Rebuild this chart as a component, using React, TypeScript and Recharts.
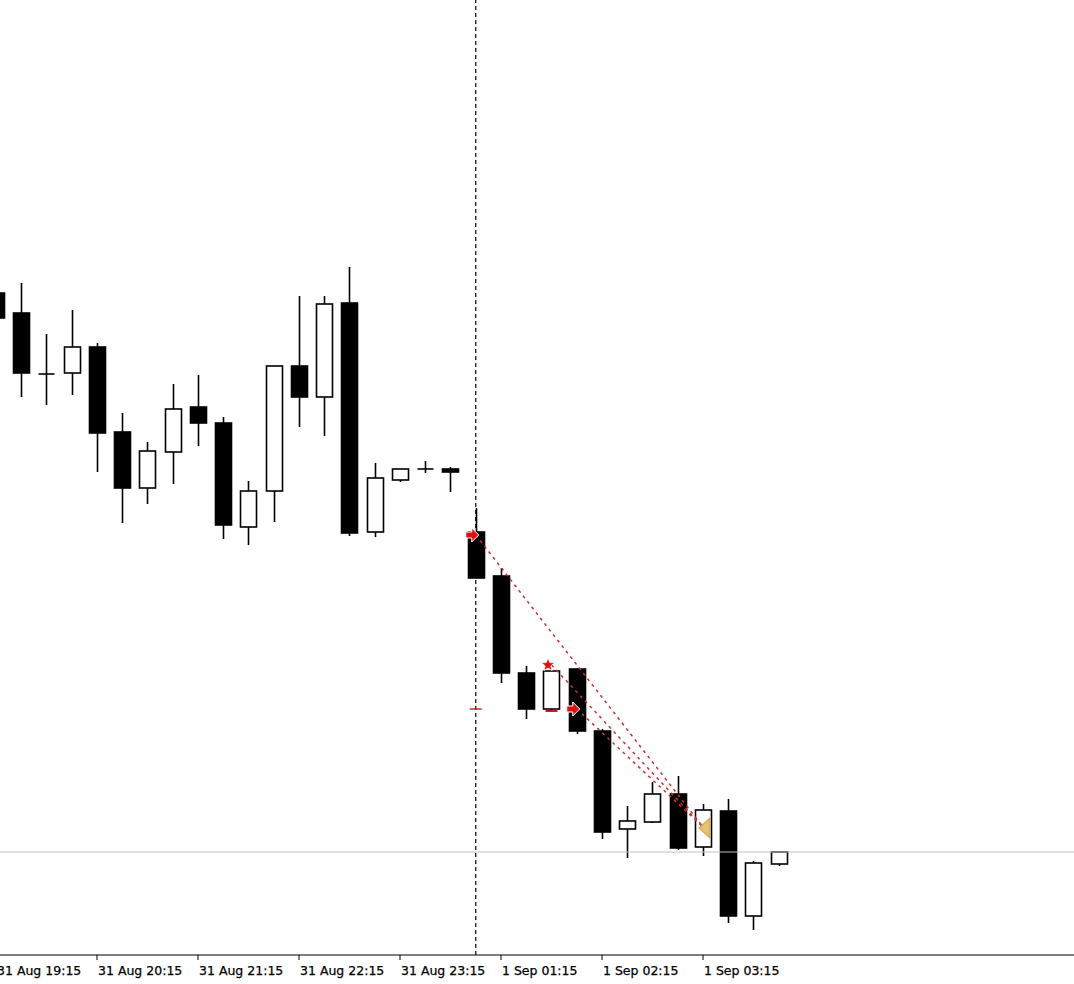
import React from 'react';
import { ComposedChart, Bar, XAxis, YAxis, ReferenceLine, Scatter } from 'recharts';

// Bar times (15-minute bars)
const times = [
  '31 Aug 19:15', '31 Aug 19:30', '31 Aug 19:45', '31 Aug 20:00', '31 Aug 20:15', '31 Aug 20:30',
  '31 Aug 20:45', '31 Aug 21:00', '31 Aug 21:15', '31 Aug 21:30', '31 Aug 21:45', '31 Aug 22:00',
  '31 Aug 22:15', '31 Aug 22:30', '31 Aug 22:45', '31 Aug 23:00', '31 Aug 23:15', '31 Aug 23:30',
  '31 Aug 23:45', '1 Sep 01:00', '1 Sep 01:15', '1 Sep 01:30', '1 Sep 01:45', '1 Sep 02:00',
  '1 Sep 02:15', '1 Sep 02:30', '1 Sep 02:45', '1 Sep 03:00', '1 Sep 03:15', '1 Sep 03:30',
  '1 Sep 03:45', '1 Sep 04:00',
];

// Prices (arbitrary point units, no price scale shown)
const opens = [662, 642, 581, 582, 608, 523, 467, 503, 548, 532, 428, 464, 589, 558, 652, 423, 475, 486, 486, 423, 379, 282, 246, 286, 224, 126, 133, 161, 108, 144, 39, 91];
const highs = [666, 672, 621, 645, 612, 542, 513, 571, 580, 538, 474, 589, 659, 659, 688, 492, 486, 494, 488, 447, 387, 289, 285, 287, 226, 149, 173, 179, 151, 156, 94, 103];
const lows = [633, 558, 550, 560, 483, 432, 451, 471, 509, 416, 410, 433, 528, 519, 419, 418, 473, 482, 463, 377, 272, 236, 245, 221, 116, 97, 132, 105, 99, 32, 25, 89];
const closes = [637, 582, 581, 608, 522, 467, 504, 546, 532, 430, 464, 589, 558, 651, 422, 477, 486, 486, 483, 377, 282, 246, 284, 224, 123, 134, 161, 107, 145, 39, 92, 103];

// Axis tick bars
const tickIdx = [0, 4, 8, 12, 16, 20, 24, 28];

// Current price line
const bidPrice = 103;
// Day separator bar
const separatorIdx = 19;

// Trade markers
const markerIdx = [19, 22, 23, 28, 19, 22];
const markerPrice = [420, 290, 246, 127, 246, 244];
const markerKind = ['arrow', 'star', 'arrow', 'tri', 'dash', 'line'];

// Trade history lines (open bar/price -> close bar/price)
const tradeOpenIdx = [19, 22, 23];
const tradeOpenPrice = [420, 290, 246];
const tradeCloseIdx = [28, 28, 28];
const tradeClosePrice = [128, 128, 128];

const candles = times.map((t, i) => ({
  i,
  time: t,
  open: opens[i],
  high: highs[i],
  low: lows[i],
  close: closes[i],
  range: [lows[i], highs[i]],
}));

const markers = markerIdx.map((idx, k) => ({ i: idx, p: markerPrice[k], kind: markerKind[k] }));

const Candle = (props: any) => {
  const { x, y, width, height, payload } = props;
  if (x == null || y == null) return null;
  const cx = Math.round(x + width / 2) + 0.5;
  const yTop = Math.min(y, y + height);
  const h = Math.abs(height);
  const hi = payload.high;
  const lo = payload.low;
  const k = hi === lo ? 0 : h / (hi - lo);
  const yO = yTop + (hi - payload.open) * k;
  const yC = yTop + (hi - payload.close) * k;
  const top = Math.min(yO, yC);
  const bot = Math.max(yO, yC);
  const bull = payload.close > payload.open;
  const doji = payload.close === payload.open;
  const half = 8;
  return (
    <g>
      <line x1={cx} x2={cx} y1={yTop} y2={yTop + h} stroke="#000" strokeWidth={1.6} />
      {doji ? (
        <line x1={cx - half} x2={cx + half} y1={yO} y2={yO} stroke="#000" strokeWidth={1.6} />
      ) : (
        <rect
          x={cx - half}
          y={top}
          width={half * 2}
          height={Math.max(bot - top, 1)}
          fill={bull ? '#ffffff' : '#000000'}
          stroke="#000"
          strokeWidth={1.6}
        />
      )}
    </g>
  );
};

const starPoints = (cx: number, cy: number, ro: number, ri: number) => {
  const pts: string[] = [];
  for (let j = 0; j < 10; j++) {
    const a = -Math.PI / 2 + (j * Math.PI) / 5;
    const r = j % 2 === 0 ? ro : ri;
    pts.push(`${cx + r * Math.cos(a)},${cy + r * Math.sin(a)}`);
  }
  return pts.join(' ');
};

const Marker = (props: any) => {
  const { cx, cy, payload } = props;
  if (cx == null || cy == null) return null;
  const kind = payload.kind;
  if (kind === 'arrow') {
    const ax = cx - 3;
    const pts = [
      [ax - 7, cy - 3],
      [ax - 1, cy - 3],
      [ax - 1, cy - 7],
      [ax + 6, cy],
      [ax - 1, cy + 7],
      [ax - 1, cy + 3],
      [ax - 7, cy + 3],
    ]
      .map((p) => p.join(','))
      .join(' ');
    return <polygon points={pts} fill="#e01010" stroke="#ffffff" strokeWidth={1} />;
  }
  if (kind === 'star') {
    return <polygon points={starPoints(cx - 3.5, cy, 7, 3)} fill="#e01010" stroke="#ffffff" strokeWidth={0.8} />;
  }
  if (kind === 'tri') {
    const pts = `${cx - 4},${cy} ${cx + 7},${cy - 10} ${cx + 7},${cy + 10}`;
    return <polygon points={pts} fill="#e6c277" stroke="#d2a84e" strokeWidth={1.2} />;
  }
  if (kind === 'dash') {
    return <line x1={cx - 6} x2={cx + 6} y1={cy} y2={cy} stroke="#c02020" strokeWidth={1.4} />;
  }
  if (kind === 'line') {
    return <line x1={cx - 6} x2={cx + 6} y1={cy} y2={cy} stroke="#c02020" strokeWidth={2} />;
  }
  return null;
};

const TickLabel = (props: any) => {
  const { x, payload } = props;
  const label = times[payload.value] ?? '';
  return (
    <text
      x={x + 1}
      y={975}
      textAnchor="start"
      fontFamily="'DejaVu Sans', sans-serif"
      fontSize={12.5}
      fill="#000"
      stroke="#000"
      strokeWidth={0.25}
    >
      {label}
    </text>
  );
};

export default function App() {
  return (
    <div style={{ position: 'absolute', left: 0, top: 0, width: 1074, height: 984, background: '#fff' }}>
      <ComposedChart width={1074} height={984} data={candles} margin={{ top: 0, right: 0, bottom: 0, left: 0 }}>
        <XAxis
          dataKey="i"
          type="number"
          domain={[0.158, 42.693]}
          allowDataOverflow
          ticks={tickIdx}
          interval={0}
          tick={<TickLabel />}
          tickSize={5}
          axisLine={{ stroke: '#000', strokeWidth: 1 }}
          tickLine={{ stroke: '#000', strokeWidth: 1 }}
          height={29}
        />
        <YAxis hide type="number" domain={[0, 955]} allowDataOverflow />
        <ReferenceLine y={bidPrice} stroke="#c0c0c0" strokeWidth={1} />
        <ReferenceLine x={separatorIdx} stroke="#000" strokeWidth={1.2} strokeDasharray="4 3" />
        <Bar dataKey="range" barSize={17} shape={<Candle />} isAnimationActive={false} />
        {tradeOpenIdx.map((idx, k) => (
          <ReferenceLine
            key={`t${k}`}
            segment={[
              { x: idx, y: tradeOpenPrice[k] },
              { x: tradeCloseIdx[k], y: tradeClosePrice[k] },
            ]}
            stroke="#c83232"
            strokeWidth={1.5}
            strokeDasharray="3 4"
          />
        ))}
        <Scatter data={markers} dataKey="p" shape={<Marker />} isAnimationActive={false} />
      </ComposedChart>
    </div>
  );
}
